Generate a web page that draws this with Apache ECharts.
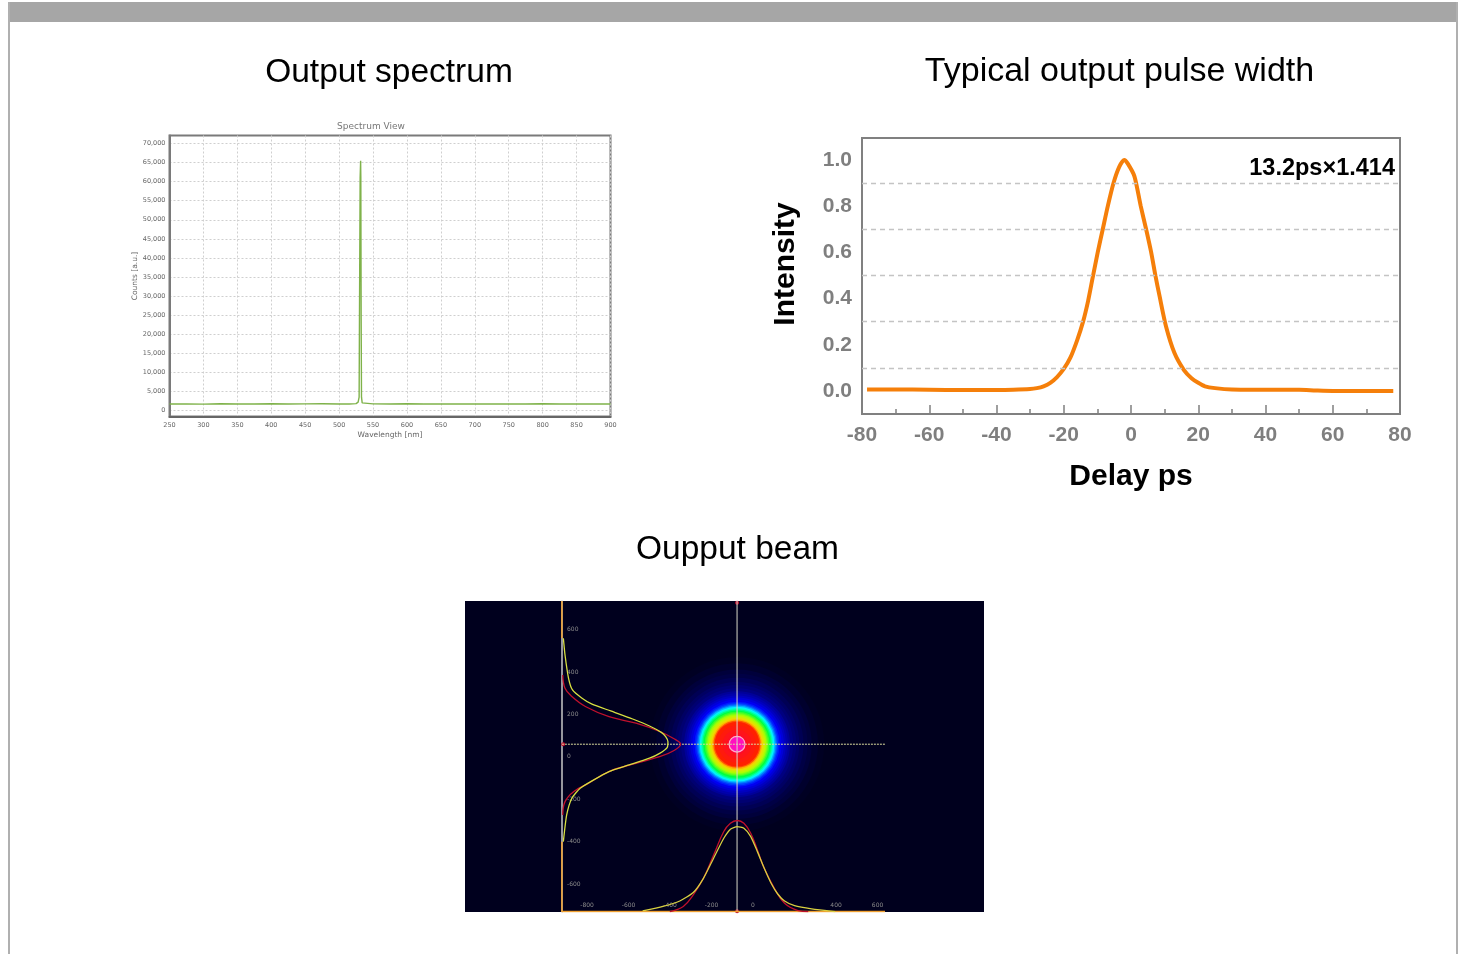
<!DOCTYPE html>
<html>
<head>
<meta charset="utf-8">
<style>html,body{margin:0;padding:0;background:#fff}#c{width:1464px;height:954px}</style>
<script src="https://cdn.jsdelivr.net/npm/echarts@6/dist/echarts.min.js"></script>
</head>
<body>
<div id="c"></div>
<script>
// ---- Output spectrum ----
const spectrumX = [250,275,300,325,350,375,400,425,450,475,500,515,525,528,529.5,530,531,531.7,532,532.5,533,534,536,550,575,600,625,650,675,700,725,750,775,800,825,850,875,900];
const spectrumY = [1700,1750,1680,1760,1700,1720,1780,1690,1740,1760,1720,1700,1800,2200,3500,24000,61000,65500,61000,24000,3500,2000,1700,1740,1700,1760,1720,1700,1730,1700,1690,1720,1700,1760,1710,1740,1700,1700];
const spectrumYTicks = [0,5000,10000,15000,20000,25000,30000,35000,40000,45000,50000,55000,60000,65000,70000];

// ---- Typical output pulse width ----
const pulseX = [-78.5,-70,-60,-50,-40,-35,-30,-28,-26,-24,-22,-20,-18,-16,-14.25,-12.75,-11.4,-9.9,-8.4,-6.9,-5.2,-3.5,-2,-1,1,2.9,4.5,6,7.25,8.5,10.4,12.9,15.75,18,20,22,25,30,40,50,55,60,70,78];
const pulseY = [.006,.006,.005,.004,.004,.005,.008,.012,.02,.035,.06,.095,.145,.22,.3,.39,.49,.6,.7,.8,.9,.97,1,.985,.93,.8,.7,.6,.5,.41,.28,.165,.09,.055,.035,.02,.012,.006,.005,.005,.002,0,0,0];
const pulseYTicks = [0,.2,.4,.6,.8,1];
const pulseDashLevels = [.1,.3,.5,.7,.9];

// ---- Output beam ----
const beamCentre = [-77,60];
const ringRadii = [420,390,360,340,320,300,285,270,255,245,235,225,215,205,198,192,186,180,174,168,162,156,150,144,138,132,126,120,114,108,90,70,50,42,36];
const ringLevels = [.005,.015,.03,.04,.055,.07,.085,.1,.12,.135,.15,.17,.19,.22,.25,.29,.34,.39,.43,.47,.5,.53,.56,.59,.62,.65,.68,.72,.77,.8,.82,.84,.86,.92,1];
const profileXYellowX = [-532,-434,-353,-288,-239,-190,-141,-109,-76,-44,-11,21,54,87,119,152,200,282,396];
const profileXYellowY = [-727,-706,-680,-640,-573,-478,-384,-341,-329,-337,-376,-447,-526,-596,-647,-680,-702,-717,-730];
const profileXRedX = [-401,-336,-288,-239,-190,-141,-109,-76,-44,-11,21,54,103,152,217,266];
const profileXRedY = [-730,-706,-651,-573,-463,-352,-313,-300,-313,-360,-439,-526,-620,-691,-725,-730];
const profileYYellowX = [-914,-906,-889,-870,-824,-776,-686,-580,-499,-442,-421,-410,-414,-450,-499,-597,-694,-776,-833,-873,-898,-914];
const profileYYellowY = [560,481,371,316,277,249,217,179,146,116,96,72,44,17,-6,-38,-69,-113,-148,-195,-274,-400];
const profileYRedX = [-917,-906,-873,-808,-694,-564,-450,-385,-349,-385,-450,-564,-694,-792,-865,-906,-917];
const profileYRedY = [387,324,285,238,190,159,120,88,60,28,1,-30,-69,-124,-164,-211,-274];
const beamXLabels = [-800,-600,-400,-200,0,400,600];
const beamYLabels = [-600,-400,-200,0,200,400,600];
const beamColours = ['#00001e','#000080','#0000ff','#0080ff','#00ffff','#00ff40','#b0ff00','#ffd000','#ff2000','#ff0040','#ff10c0'];

const zip = (a,b) => a.map((v,i) => [v,b[i]]);
const FONT = '"Liberation Sans", Arial, sans-serif';
const chart = echarts.init(document.getElementById('c'), null, {renderer:'canvas'});

const line = (x,y,xa,color,width,extra) => Object.assign({
  type:'line', xAxisIndex:xa, yAxisIndex:xa, data:zip(x,y), showSymbol:false, symbol:'none',
  lineStyle:{color,width}, silent:true, animation:false
}, extra||{});

chart.setOption({
  animation:false,
  backgroundColor:'#fff',
  graphic:[
    {type:'rect',shape:{x:8,y:2,width:1450,height:20},style:{fill:'#a6a6a6'},silent:true},
    {type:'rect',shape:{x:8,y:2,width:2,height:952},style:{fill:'#b0b0b0'},silent:true},
    {type:'rect',shape:{x:1456,y:2,width:2,height:952},style:{fill:'#b0b0b0'},silent:true}
  ],
  title:[
    {text:'Output spectrum',left:384,top:51,textAlign:'center',textStyle:{fontFamily:FONT,fontSize:33.5,fontWeight:'normal',color:'#000'}},
    {text:'Typical output pulse width',left:1114.5,top:50,textAlign:'center',textStyle:{fontFamily:FONT,fontSize:34,fontWeight:'normal',color:'#000'}},
    {text:'Oupput beam',left:732.5,top:528,textAlign:'center',textStyle:{fontFamily:FONT,fontSize:33.5,fontWeight:'normal',color:'#000'}},
    {text:'Spectrum View',left:366,top:117,textAlign:'center',textStyle:{fontFamily:'"DejaVu Sans"',fontSize:9,fontWeight:'normal',color:'#777'}}
  ],
  visualMap:[{type:'continuous',show:false,seriesIndex:2,dimension:3,min:0,max:1,inRange:{color:beamColours}}],
  grid:[
    {left:169.5,top:135.5,width:441,height:281,show:true,borderColor:'#7a7a7a',borderWidth:2,backgroundColor:'#fff'},
    {left:862,top:138,width:538,height:276,show:true,borderColor:'#808080',borderWidth:2,backgroundColor:'#fff'},
    {left:465,top:601,width:519,height:311,show:true,borderWidth:0,backgroundColor:'#00001e'}
  ],
  xAxis:[
    {gridIndex:0,type:'value',min:250,max:900,interval:50,name:'Wavelength [nm]',nameLocation:'middle',nameGap:15,
     nameTextStyle:{fontFamily:'"DejaVu Sans"',fontSize:7.5,color:'#666'},
     axisLine:{onZero:false,lineStyle:{color:'#666',width:2}},axisTick:{show:false},
     axisLabel:{fontFamily:'"DejaVu Sans"',fontSize:6.5,color:'#666',margin:5},
     splitLine:{show:true,lineStyle:{color:'#cfcfcf',type:[2,2],width:1}}},
    {gridIndex:1,type:'value',min:-80,max:80,interval:20,name:'Delay ps',nameLocation:'middle',nameGap:48,
     nameTextStyle:{fontFamily:FONT,fontSize:30,fontWeight:'bold',color:'#000'},
     axisLine:{onZero:false,lineStyle:{color:'#808080',width:2}},
     axisTick:{show:true,inside:true,length:9,lineStyle:{color:'#808080',width:1.5}},
     minorTick:{show:true,splitNumber:2,length:5,lineStyle:{color:'#808080',width:1.5}},
     axisLabel:{fontFamily:FONT,fontSize:21,fontWeight:'bold',color:'#7f7f7f',margin:11},
     splitLine:{show:false}},
    {gridIndex:2,type:'value',min:-1388,max:1113,
     axisLine:{show:false,onZero:false},axisTick:{show:false},splitLine:{show:false},
     axisLabel:{inside:true,customValues:beamXLabels,fontFamily:'"DejaVu Sans"',fontSize:6,color:'#8c8c8c',margin:4}}
  ],
  yAxis:[
    {gridIndex:0,type:'value',min:-1570,max:72100,name:'Counts [a.u.]',nameLocation:'middle',nameGap:27,
     nameTextStyle:{fontFamily:'"DejaVu Sans"',fontSize:7.5,color:'#666'},
     axisLine:{onZero:false,lineStyle:{color:'#7a7a7a',width:2}},
     axisTick:{show:false,customValues:spectrumYTicks},
     axisLabel:{customValues:spectrumYTicks,fontFamily:'"DejaVu Sans"',fontSize:6.5,color:'#666',margin:4,
       formatter:v=>v.toLocaleString('en-US')},
     splitLine:{show:true,lineStyle:{color:'#cfcfcf',type:[2,2],width:1}}},
    {gridIndex:1,type:'value',min:-0.1,max:1.095,name:'Intensity',nameLocation:'middle',nameGap:61,
     nameTextStyle:{fontFamily:FONT,fontSize:30,fontWeight:'bold',color:'#000',padding:[0,0,0,24]},
     axisLine:{onZero:false,lineStyle:{color:'#808080',width:2}},axisTick:{show:false},splitLine:{show:false},
     axisLabel:{customValues:pulseYTicks,fontFamily:FONT,fontSize:21,fontWeight:'bold',color:'#7f7f7f',margin:10,
       formatter:v=>v.toFixed(1)}},
    {gridIndex:2,type:'value',min:-732,max:736,offset:-97,
     axisLine:{show:true,onZero:false,lineStyle:{color:'#c8c8c8',width:1.5}},axisTick:{show:false},splitLine:{show:false},
     axisLabel:{inside:true,customValues:beamYLabels,fontFamily:'"DejaVu Sans"',fontSize:6,color:'#8c8c8c',margin:5}}
  ],
  series:[
    line(spectrumX,spectrumY,0,'#7fb24a',1.4),
    line(pulseX,pulseY,1,'#f57f0a',4,{
      smooth:0.25,
      markLine:{silent:true,symbol:'none',animation:false,label:{show:false},
        lineStyle:{color:'#c4c4c4',type:[5,4],width:1.3},
        data:pulseDashLevels.map(v=>({yAxis:v}))}
    }),
    {type:'custom',xAxisIndex:2,yAxisIndex:2,silent:true,animation:false,clip:true,
     dimensions:['cx','cy','r','level'],encode:{x:0,y:1},
     data:ringRadii.map((r,i)=>[beamCentre[0],beamCentre[1],r,ringLevels[i]]),
     renderItem:(params,api)=>{
       const c=api.coord([api.value(0),api.value(1)]);
       const s=api.size([api.value(2),api.value(2)]);
       return {type:'circle',shape:{cx:c[0],cy:c[1],r:s[0]},style:{fill:api.visual('color')}};
     }},
    line([-921,636],[60,60],2,'#d8d890',1,{lineStyle:{color:'#dcdca0',width:1,type:[2,1]}}),
    line([-77,-77],[-732,736],2,'#d8d8c8',1),
    line([-921,636],[-730,-730],2,'#f0a030',1.5),
    line([-921,-921],[-732,-400],2,'#f0a030',1.5),
    line([-921,-921],[560,736],2,'#f0a030',1.5),
    line(profileYRedX,profileYRedY,2,'#c0102c',1.3,{smooth:0.4}),
    line(profileYYellowX,profileYYellowY,2,'#d8e040',1.3,{smooth:0.2}),
    line(profileXRedX,profileXRedY,2,'#c0102c',1.3,{smooth:0.4}),
    line(profileXYellowX,profileXYellowY,2,'#d8d040',1.3,{smooth:0.2}),
    {type:'scatter',xAxisIndex:2,yAxisIndex:2,silent:true,animation:false,symbolSize:4,
     data:[[-77,728],[-77,-728],[-915,60]],itemStyle:{color:'#c01030',opacity:1}},
    {type:'custom',xAxisIndex:2,yAxisIndex:2,silent:true,animation:false,clip:true,
     data:[[beamCentre[0],beamCentre[1],38]],encode:{x:0,y:1},
     renderItem:(params,api)=>{
       const c=api.coord([api.value(0),api.value(1)]);
       const s=api.size([api.value(2),api.value(2)]);
       return {type:'circle',shape:{cx:c[0],cy:c[1],r:s[0]},style:{fill:'none',stroke:'#ffb0c8',lineWidth:1.2}};
     }},
    {type:'scatter',xAxisIndex:1,yAxisIndex:1,silent:true,animation:false,symbolSize:0,
     itemStyle:{opacity:1},
     data:[[78.5,0.965]],
     label:{show:true,position:'left',distance:0,formatter:'13.2ps×1.414',fontFamily:FONT,fontSize:23.5,fontWeight:'bold',color:'#000'}}
  ]
});
</script>
</body>
</html>
